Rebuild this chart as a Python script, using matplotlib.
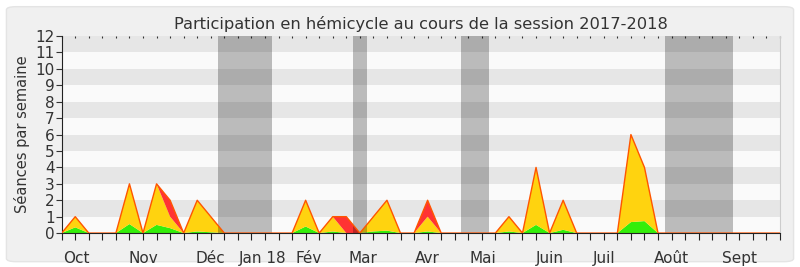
import numpy as np
import matplotlib
matplotlib.use("Agg")
import matplotlib.pyplot as plt
from matplotlib.patches import FancyBboxPatch

plt.rcParams["font.family"] = ["DejaVu Sans"]

# weekly values, week 0 .. 53
weeks = np.arange(54)
total = [0, 1, 0, 0, 0, 3, 0, 3, 2, 0, 2, 1, 0, 0, 0, 0, 0, 0, 2, 0,
         1, 1, 0, 1, 2, 0, 0, 2, 0, 0, 0, 0, 0, 1, 0, 4, 0, 2, 0, 0,
         0, 0, 6, 4, 0, 0, 0, 0, 0, 0, 0, 0, 0, 0]
green = [0, 0.35, 0, 0, 0, 0.55, 0, 0.5, 0.3, 0, 0.1, 0.05, 0, 0, 0, 0, 0, 0, 0.4, 0,
         0.1, 0, 0, 0.1, 0.15, 0, 0, 0.1, 0, 0, 0, 0, 0, 0.1, 0, 0.5, 0, 0.2, 0, 0,
         0, 0, 0.67, 0.73, 0, 0, 0, 0, 0, 0, 0, 0, 0, 0]
red = [0, 0, 0, 0, 0, 0, 0, 0, 1, 0, 0, 0, 0, 0, 0, 0, 0, 0, 0, 0,
       0, 1, 0, 0, 0, 0, 0, 1, 0, 0, 0, 0, 0, 0, 0, 0, 0, 0, 0, 0,
       0, 0, 0, 0, 0, 0, 0, 0, 0, 0, 0, 0, 0, 0]
yellow = [t - g - r for t, g, r in zip(total, green, red)]

# holidays (in weeks)
vacances = [(11.5, 15.5), (21.5, 22.5), (29.5, 31.5), (44.5, 49.5)]

month_labels = ["Oct", "Nov", "Déc", "Jan 18", "Fév", "Mar", "Avr", "Mai",
                "Juin", "Juil", "Août", "Sept"]
month_pos = [1.1, 6, 11, 14.85, 18.2, 22.2, 27, 31.1, 36, 40, 45, 50]

fig = plt.figure(figsize=(8, 2.67), dpi=100)
fig.patch.set_facecolor("white")
fig.patches.append(FancyBboxPatch((0.008, 0.02), 0.984, 0.955,
                                  boxstyle="round,pad=0,rounding_size=0.012",
                                  transform=fig.transFigure, facecolor="#f0f0f0",
                                  edgecolor="#e4e4e4", linewidth=1, zorder=-10))

ax = fig.add_axes([0.0771, 0.127, 0.8979, 0.738])
ax.set_facecolor("#fafafa")
for k in range(1, 12, 2):
    ax.axhspan(k, k + 1, color="#e6e6e6", lw=0, zorder=0)

ax.stackplot(weeks, green, yellow, red, colors=["#33ee0a", "#ffd30f", "#ff3333"],
             linewidth=0, zorder=1)
ax.plot(weeks, total, color="#ff5500", lw=1, zorder=3)

for a, b in vacances:
    ax.axvspan(a, b, color="black", alpha=0.25, lw=0, zorder=2)

ax.set_xlim(0, 53)
ax.set_ylim(0, 12)
ax.set_yticks(range(13))
ax.tick_params(axis="y", labelsize=11, length=4, pad=1, colors="#333333")
ax.set_xticks(weeks)
ax.set_xticklabels([])
ax.tick_params(axis="x", length=5, color="#222222")
for p, lab in zip(month_pos, month_labels):
    ax.text(p, -0.09, lab, transform=ax.get_xaxis_transform(), ha="center", va="top",
            fontsize=11, color="#333333")

top = ax.secondary_xaxis("top")
top.set_xticks(weeks)
top.set_xticklabels([])
top.tick_params(length=1.5, direction="in", color="#333333")
top.spines["top"].set_visible(False)

ax.spines["top"].set_visible(False)
ax.spines["right"].set_color("#cccccc")
ax.spines["left"].set_color("#222222")
ax.spines["bottom"].set_color("#222222")

ax.set_ylabel("Séances par semaine", fontsize=10.5, color="#333333", labelpad=4)
ax.set_title("Participation en hémicycle au cours de la session 2017-2018",
             fontsize=11.7, color="#333333", pad=5)

fig.savefig("out.png", dpi=100, facecolor=fig.get_facecolor())
